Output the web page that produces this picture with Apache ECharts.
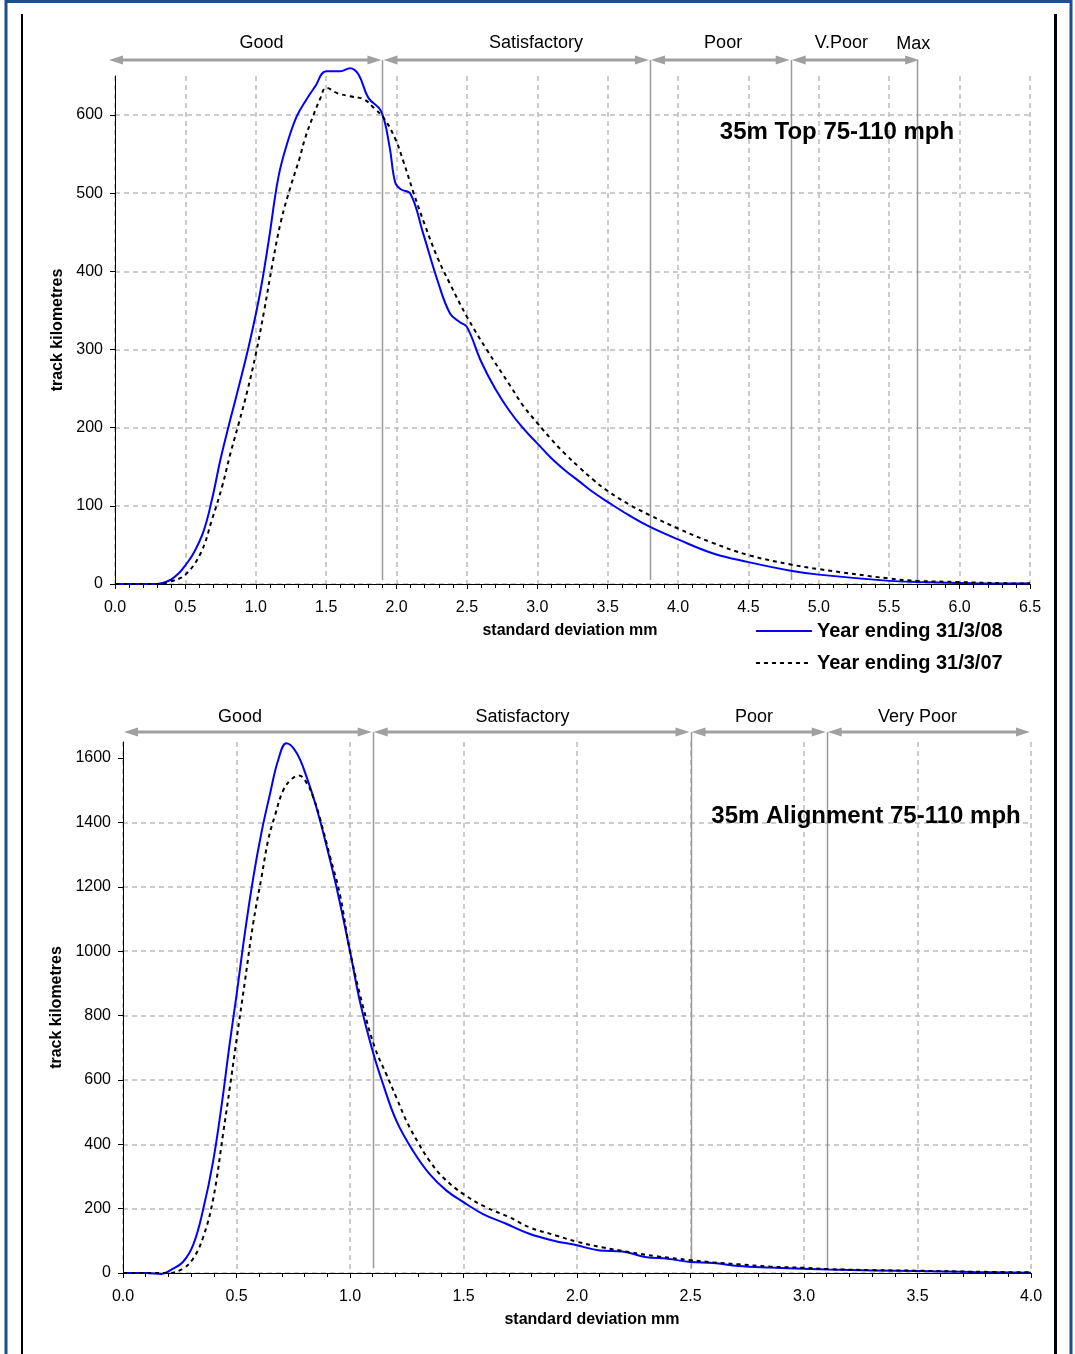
<!DOCTYPE html>
<html><head><meta charset="utf-8">
<script src="https://cdn.jsdelivr.net/npm/echarts@6/dist/echarts.min.js"></script>
<style>html,body{margin:0;padding:0;background:#fff}#c{width:1075px;height:1354px}</style>
</head><body><div id="c"></div>
<script>
// ---- data ----
const top2008 = [[0,0],[0.1,0],[0.2,0],[0.3,0],[0.35,2],[0.4,6],[0.455,14],[0.5,24],[0.56,40],[0.63,68],[0.69,109],[0.75,160],[0.82,211],[0.89,260],[0.96,312],[1.03,372],[1.09,437],[1.16,520],[1.22,562],[1.29,598],[1.36,620],[1.42,636],[1.5,656],[1.6,656],[1.67,660],[1.73,652],[1.8,622],[1.89,605],[1.95,560],[1.99,514],[2.03,505],[2.1,499],[2.19,448],[2.29,389],[2.38,346],[2.45,335],[2.5,329],[2.6,285],[2.7,250],[2.8,222],[2.9,199],[3.0,180],[3.1,161],[3.2,145],[3.3,131],[3.4,117],[3.5,105],[3.65,88],[3.79,74],[4.0,57],[4.25,39],[4.5,28],[4.8,17],[5.0,12],[5.5,4],[5.7,2.5],[6.0,1.3],[6.3,0.5],[6.5,1]];
const top2007 = [[0,0],[0.1,0],[0.2,0],[0.3,0],[0.39,3],[0.5,12],[0.61,40],[0.69,83],[0.76,124],[0.82,167],[0.88,206],[0.94,247],[1.0,294],[1.06,350],[1.12,411],[1.18,465],[1.25,510],[1.31,544],[1.35,570],[1.41,600],[1.46,622],[1.5,635],[1.58,628],[1.67,624],[1.77,620],[1.84,609],[1.91,596],[1.99,570],[2.05,540],[2.12,501],[2.2,460],[2.29,418],[2.38,384],[2.5,342],[2.64,300],[2.81,253],[2.9,228],[3.0,206],[3.1,185],[3.2,166],[3.3,149],[3.4,133],[3.5,119],[3.65,102],[3.8,88],[4.0,71],[4.24,53],[4.5,37],[4.8,25],[5.0,19],[5.5,7],[5.7,4],[6.0,2.5],[6.3,1],[6.5,0.5]];
const aln2008 = [[0,0],[0.1,0],[0.17,-3],[0.21,9],[0.265,35],[0.31,89],[0.353,197],[0.397,347],[0.434,519],[0.47,713],[0.5,863],[0.537,1057],[0.574,1229],[0.61,1369],[0.647,1487],[0.684,1595],[0.72,1646],[0.765,1616],[0.809,1541],[0.853,1444],[0.897,1326],[0.941,1197],[1.0,1000],[1.044,843],[1.1,689],[1.146,586],[1.205,472],[1.278,379],[1.351,307],[1.425,256],[1.5,220],[1.586,183],[1.688,153],[1.79,122],[1.893,101],[2.0,86],[2.1,70],[2.2,67],[2.3,50],[2.4,44],[2.5,34],[2.6,31],[2.71,22],[2.85,17],[3.0,13],[3.11,10.5],[3.3,8],[3.5,6],[3.75,3],[4.0,1]];
const aln2007 = [[0,0],[0.1,0],[0.2,0],[0.265,14],[0.31,46],[0.353,111],[0.397,229],[0.441,433],[0.47,573],[0.5,724],[0.537,906],[0.574,1089],[0.61,1229],[0.64,1347],[0.67,1423],[0.706,1500],[0.743,1535],[0.775,1546],[0.81,1522],[0.84,1475],[0.868,1412],[0.912,1294],[0.956,1175],[1.0,1000],[1.059,823],[1.11,699],[1.161,616],[1.205,544],[1.249,472],[1.3,405],[1.351,348],[1.41,297],[1.5,245],[1.6,204],[1.7,174],[1.79,142],[1.91,116],[2.0,97],[2.11,80],[2.23,65],[2.35,52],[2.5,40],[2.6,33],[2.71,27],[2.85,20],[3.0,16],[3.11,12],[3.3,9],[3.5,7],[3.75,4],[4.0,2]];

const seriesNames = ['Year ending 31/3/08', 'Year ending 31/3/07'];
const topYTicks = [0,100,200,300,400,500,600];
const alnYTicks = [0,200,400,600,800,1000,1200,1400,1600];

const topBounds = [-0.05, 1.9, 3.8, 4.8, 5.72];
const topBands = ['Good', 'Satisfactory', 'Poor', 'V.Poor'];
const topBandLabelAt = [1.04, 2.99, 4.32, 5.16];
const topMaxLabel = 'Max', topMaxLabelAt = 5.67;
const topLimitLines = [1.9, 3.8, 4.8, 5.7];

const alnBounds = [0, 1.1, 2.5, 3.1, 4.0];
const alnBands = ['Good', 'Satisfactory', 'Poor', 'Very Poor'];
const alnBandLabelAt = [0.515, 1.76, 2.78, 3.5];
const alnLimitLines = [1.1, 2.5, 3.1];

const titles = ['35m Top 75-110 mph', '35m Alignment 75-110 mph'];
const xName = 'standard deviation mm', yName = 'track kilometres';

// ---- chart ----
const FONT = "'Liberation Sans', Arial, sans-serif";
const GRID_LINE = {show:true, lineStyle:{color:'#bcbcbc', width:1.5, type:[5,4]}};
const chart = echarts.init(document.getElementById('c'), null, {renderer:'canvas'});

function xAxis(idx, max) {
  return {
    type:'value', gridIndex:idx, min:0, max:max, interval:0.5,
    axisLine:{show:true, onZero:false, lineStyle:{color:'#000', width:1}},
    axisTick:{show:true, length:5, lineStyle:{color:'#000'}},
    minorTick:{show:true, splitNumber:5, length:4, lineStyle:{color:'#000'}},
    axisLabel:{formatter:v=>v.toFixed(1), fontSize:16, color:'#000', margin:16, fontFamily:FONT},
    splitLine:GRID_LINE
  };
}
function yAxis(idx, max, interval, ticks, gap, showMax) {
  return {
    type:'value', gridIndex:idx, min:0, max:max, interval:interval,
    axisLine:{show:true, onZero:false, lineStyle:{color:'#000', width:1}},
    axisTick:{show:true, customValues:ticks, length:5, lineStyle:{color:'#000'}},
    axisLabel:{customValues:ticks, formatter:v=>String(v), fontSize:16, color:'#000', margin:12, fontFamily:FONT},
    splitLine:{show:true, showMaxLine:showMax, lineStyle:{color:'#bcbcbc', width:1.5, type:[5,4]}},
    name:yName, nameLocation:'middle', nameGap:gap,
    nameTextStyle:{fontSize:16, fontWeight:'bold', color:'#000', fontFamily:FONT}
  };
}
function lineSeries(name, data, idx, solid) {
  return {
    name:name, type:'line', xAxisIndex:idx, yAxisIndex:idx, data:data,
    symbol:'none', showSymbol:false, smooth:0.4, clip:false,
    lineStyle: solid ? {color:'#0000ff', width:2} : {color:'#000', width:2, type:[4,4]},
    itemStyle:{color: solid ? '#0000ff' : '#000'}, z: solid ? 3 : 4
  };
}

chart.setOption({
  animation:false,
  textStyle:{fontFamily:FONT},
  grid:[
    {left:115, top:76, width:915, height:508},
    {left:123, top:742, width:908, height:531}
  ],
  xAxis:[xAxis(0, 6.5), xAxis(1, 4.0)],
  yAxis:[yAxis(0, 650, 50, topYTicks, 48, true), yAxis(1, 1650, 100, alnYTicks, 56, false)],
  legend:{
    data:seriesNames, orient:'vertical', left:750, top:616, itemWidth:56, itemHeight:12, itemGap:12,
    itemStyle:{opacity:0},
    textStyle:{fontSize:20, fontWeight:'bold', color:'#000', fontFamily:FONT}, selectedMode:false
  },
  series:[
    lineSeries(seriesNames[0], top2008, 0, true),
    lineSeries(seriesNames[1], top2007, 0, false),
    lineSeries(seriesNames[0], aln2008, 1, true),
    lineSeries(seriesNames[1], aln2007, 1, false)
  ]
});

// ---- annotations placed through the axes ----
const px = (i, v) => chart.convertToPixel({xAxisIndex:i}, v);
const py = (i, v) => chart.convertToPixel({yAxisIndex:i}, v);
const ARROW = '#a0a0a0';
const els = [];

function arrows(i, bounds, y) {
  for (let k = 0; k < bounds.length - 1; k++) {
    const a = px(i, bounds[k]) + 1, b = px(i, bounds[k+1]) - 1;
    els.push({type:'line', silent:true, shape:{x1:a+10, y1:y, x2:b-10, y2:y}, style:{stroke:ARROW, lineWidth:3}});
    els.push({type:'polygon', silent:true, shape:{points:[[a,y],[a+14,y-4.5],[a+14,y+4.5]]}, style:{fill:ARROW}});
    els.push({type:'polygon', silent:true, shape:{points:[[b,y],[b-14,y-4.5],[b-14,y+4.5]]}, style:{fill:ARROW}});
  }
}
function limits(i, vals, yTop, yBottomVal) {
  vals.forEach(v => {
    const x = Math.round(px(i, v)) + 0.5;
    els.push({type:'line', silent:true, shape:{x1:x, y1:yTop, x2:x, y2:py(i, yBottomVal)}, style:{stroke:'#9a9a9a', lineWidth:1.5}});
  });
}
function label(i, text, v, y, size, bold) {
  els.push({type:'text', silent:true, x:px(i, v), y:y, style:{text:text, fill:'#000', font:(bold?'bold ':'') + size + 'px ' + FONT, textAlign:'center', textVerticalAlign:'middle'}});
}

// frame
els.push({type:'rect', silent:true, shape:{x:6, y:1.5, width:1065, height:1400}, style:{fill:null, stroke:'#1c4f8f', lineWidth:3}});
els.push({type:'line', silent:true, shape:{x1:22, y1:14, x2:22, y2:1354}, style:{stroke:'#000', lineWidth:2}});
els.push({type:'line', silent:true, shape:{x1:1055.5, y1:14, x2:1055.5, y2:1354}, style:{stroke:'#000', lineWidth:3}});

// top chart
limits(0, topLimitLines, 60, 5);
arrows(0, topBounds, 60);
topBands.forEach((t, k) => label(0, t, topBandLabelAt[k], 43, 18, false));
label(0, topMaxLabel, topMaxLabelAt, 44, 18, false);
els.push({type:'text', silent:true, x:837, y:132, style:{text:titles[0], fill:'#000', font:'bold 24px ' + FONT, textAlign:'center', textVerticalAlign:'middle'}});
els.push({type:'text', silent:true, x:570, y:631, style:{text:xName, fill:'#000', font:'bold 16px ' + FONT, textAlign:'center', textVerticalAlign:'middle'}});

// bottom chart
limits(1, alnLimitLines, 732, 15);
arrows(1, alnBounds, 732);
alnBands.forEach((t, k) => label(1, t, alnBandLabelAt[k], 717, 18, false));
els.push({type:'text', silent:true, x:866, y:816, style:{text:titles[1], fill:'#000', font:'bold 24px ' + FONT, textAlign:'center', textVerticalAlign:'middle'}});
els.push({type:'text', silent:true, x:592, y:1320, style:{text:xName, fill:'#000', font:'bold 16px ' + FONT, textAlign:'center', textVerticalAlign:'middle'}});

chart.setOption({graphic:{elements:els}});
</script>
</body></html>
